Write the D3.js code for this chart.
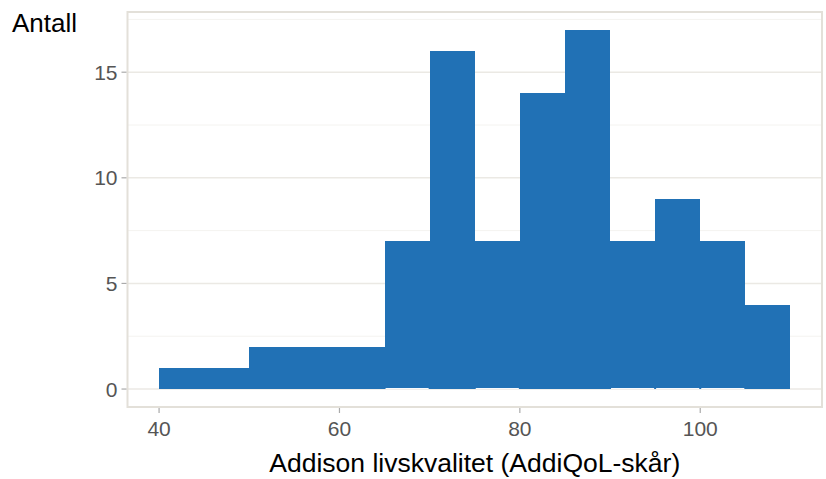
<!DOCTYPE html>
<html>
<head>
<meta charset="utf-8">
<script src="https://cdn.jsdelivr.net/npm/d3@7"></script>
<style>
  body { margin: 0; background: #fff; }
  svg { display: block; font-family: "Liberation Sans", Arial, sans-serif; }
</style>
</head>
<body>
<div id="chart"></div>
<script>
// Histogram data: bin edges (width 5) and counts
const binStarts = [40, 45, 50, 55, 60, 65, 70, 75, 80, 85, 90, 95, 100, 105];
const counts = [1, 1, 2, 2, 2, 7, 16, 7, 14, 17, 7, 9, 7, 4];
const binWidth = 5;
// bins where a thin white line shows at the baseline
const baselineBins = [65, 75, 90, 95, 100];
const xTicks = [40, 60, 80, 100];
const yTicks = [0, 5, 10, 15];
const yMinor = [2.5, 7.5, 12.5, 17.5];

const W = 826, H = 479;
const panel = { left: 127.5, right: 822, top: 12, bottom: 407 };

const svg = d3.select('#chart').append('svg')
    .attr('width', W)
    .attr('height', H);

const xMin = 40, xMax = 110, yMax = d3.max(counts);
const xPad = (xMax - xMin) * 0.05, yPad = yMax * 0.05;

const x = d3.scaleLinear()
    .domain([xMin - xPad, xMax + xPad])
    .range([panel.left, panel.right]);

const y = d3.scaleLinear()
    .domain([-yPad, yMax + yPad])
    .range([panel.bottom, panel.top]);

// minor gridlines
svg.append('g').selectAll('line')
    .data(yMinor)
    .join('line')
    .attr('x1', panel.left).attr('x2', panel.right)
    .attr('y1', d => y(d)).attr('y2', d => y(d))
    .attr('stroke', '#f4f3f0')
    .attr('stroke-width', 1);

// major gridlines
svg.append('g').selectAll('line')
    .data(yTicks)
    .join('line')
    .attr('x1', panel.left).attr('x2', panel.right)
    .attr('y1', d => y(d)).attr('y2', d => y(d))
    .attr('stroke', '#ebe9e4')
    .attr('stroke-width', 1.6);

// bars
const bins = binStarts.map((s, i) => ({ x0: s, x1: s + binWidth, n: counts[i] }));

svg.append('g').selectAll('rect')
    .data(bins)
    .join('rect')
    .attr('x', d => x(d.x0))
    .attr('width', d => x(d.x1) - x(d.x0))
    .attr('y', d => y(d.n))
    .attr('height', d => y(0) - y(d.n))
    .attr('fill', '#2171b5')
    .attr('shape-rendering', 'crispEdges');

svg.append('g').selectAll('line')
    .data(baselineBins)
    .join('line')
    .attr('x1', d => x(d) + 1).attr('x2', d => x(d + binWidth) - 1)
    .attr('y1', y(0) - 0.5).attr('y2', y(0) - 0.5)
    .attr('stroke', '#ffffff')
    .attr('stroke-width', 1);

// panel border
svg.append('rect')
    .attr('x', panel.left).attr('y', panel.top)
    .attr('width', panel.right - panel.left)
    .attr('height', panel.bottom - panel.top)
    .attr('fill', 'none')
    .attr('stroke', '#e3e0d9')
    .attr('stroke-width', 2);

// y axis ticks + labels
const yAxis = svg.append('g');
yAxis.selectAll('line')
    .data(yTicks)
    .join('line')
    .attr('x1', panel.left - 6).attr('x2', panel.left - 1)
    .attr('y1', d => y(d)).attr('y2', d => y(d))
    .attr('stroke', '#aaaaaa')
    .attr('stroke-width', 1.2);
yAxis.selectAll('text')
    .data(yTicks)
    .join('text')
    .attr('x', panel.left - 10)
    .attr('y', d => y(d))
    .attr('dy', '0.36em')
    .attr('text-anchor', 'end')
    .attr('font-size', '21px')
    .attr('fill', '#555555')
    .text(d => d);

// x axis ticks + labels
const xAxis = svg.append('g');
xAxis.selectAll('line')
    .data(xTicks)
    .join('line')
    .attr('x1', d => x(d)).attr('x2', d => x(d))
    .attr('y1', panel.bottom + 1).attr('y2', panel.bottom + 6)
    .attr('stroke', '#aaaaaa')
    .attr('stroke-width', 1.2);
xAxis.selectAll('text')
    .data(xTicks)
    .join('text')
    .attr('x', d => x(d))
    .attr('y', 436)
    .attr('text-anchor', 'middle')
    .attr('font-size', '21px')
    .attr('fill', '#555555')
    .text(d => d);

// titles
svg.append('text')
    .attr('x', 12)
    .attr('y', 32)
    .attr('font-size', '26px')
    .attr('fill', '#000')
    .text('Antall');

svg.append('text')
    .attr('x', (panel.left + panel.right) / 2)
    .attr('y', 472)
    .attr('text-anchor', 'middle')
    .attr('font-size', '26.5px')
    .attr('fill', '#000')
    .text('Addison livskvalitet (AddiQoL-skår)');
</script>
</body>
</html>
